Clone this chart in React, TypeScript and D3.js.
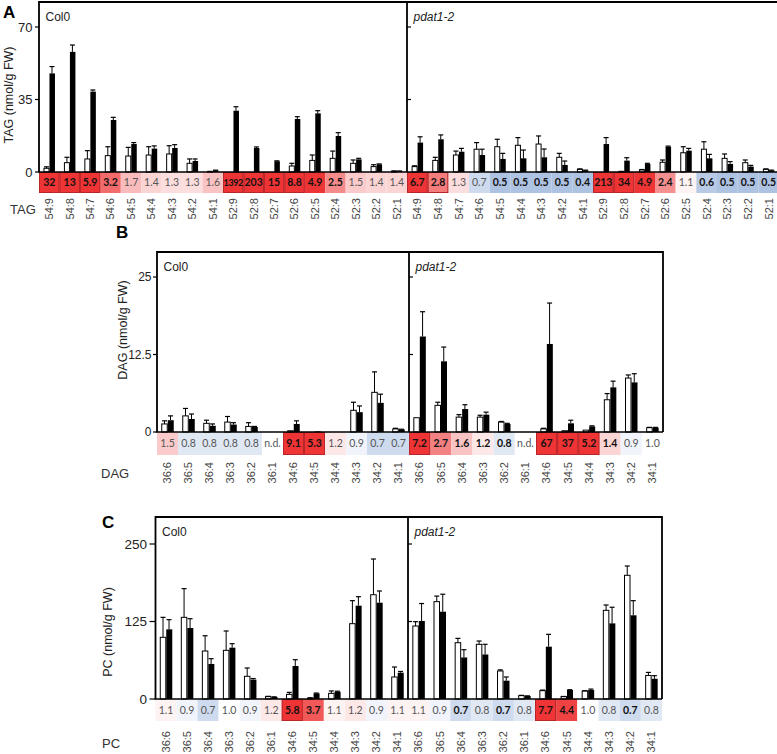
import React from "react";
import * as d3 from "d3";

// ---------- DATA ----------
const tagCats = ["54:9","54:8","54:7","54:6","54:5","54:4","54:3","54:2","54:1","52:9","52:8","52:7","52:6","52:5","52:4","52:3","52:2","52:1"];
const tagCol0Open = [1.8,4.5,6.3,7.9,7.7,8.2,8.7,4.2,0.2,0,0,0,2.9,5.6,6.6,4.2,2.6,0.4];
const tagCol0OpenSd = [0.7,2.6,4.0,4.3,4.2,4.0,4.0,2.1,0.1,0,0,0,1.3,2.6,3.5,1.6,0.9,0.1];
const tagCol0Filled = [47.6,58,38.8,25.1,13.5,11.3,11.6,5.3,0.8,29.6,11.6,5.2,25.6,28.3,17.4,6.1,3.7,0.4];
const tagCol0FilledSd = [3.3,3.3,0.8,1.3,0.7,1.3,1.6,1.0,0.1,1.9,0.5,0.2,1.1,1.3,1.6,0.5,0.2,0.1];
const tagPdatOpen = [2.6,5.6,8.2,11,12.2,12.9,13.5,7.1,1.3,0,0.2,1,4.7,9.3,11,6.6,4.5,1.3];
const tagPdatOpenSd = [0.4,1.5,1.9,3.2,3.6,3.7,3.9,1.9,0.2,0,0.1,0.2,1.1,2.9,3.6,2.1,1.3,0.2];
const tagPdatFilled = [14.2,15.8,9.8,8.2,6.3,6.6,7.1,3.4,0.8,13.5,5.5,3.9,12.2,10.3,6.6,3.9,2.6,0.8];
const tagPdatFilledSd = [2.8,2.1,1.6,2.8,2.7,4.0,4.0,1.9,0.1,3.1,1.4,0.3,0.3,1.1,1.9,1.1,0.6,0.1];
const tagCol0Fold = [32,13,5.9,3.2,1.7,1.4,1.3,1.3,1.6,1392,203,15,8.8,4.9,2.5,1.5,1.4,1.4];
const tagCol0Sig = [2,2,2,1,0,0,0,0,0,2,2,2,2,1,1,0,0,0];
const tagPdatFold = [6.7,2.8,1.3,0.7,0.5,0.5,0.5,0.5,0.4,213,34,4.9,2.4,1.1,0.6,0.5,0.5,0.5];
const tagPdatSig = [2,2,0,0,1,1,1,1,1,2,2,1,1,0,1,1,1,1];
const tagTicks = [0,35,70];

const dagCats = ["36:6","36:5","36:4","36:3","36:2","36:1","34:6","34:5","34:4","34:3","34:2","34:1"];
const dagCol0Open = [1.3,2.6,1.4,1.6,0.9,0,0.2,0,0,3.5,6.4,0.5];
const dagCol0OpenSd = [0.5,1.2,0.5,0.9,0.6,0,0,0,0,1.3,3.3,0.1];
const dagCol0Filled = [1.9,2.1,1.0,1.2,0.8,0,1.3,0.1,0,3.2,4.7,0.4];
const dagCol0FilledSd = [0.7,0.8,0.3,0.3,0.1,0,0.5,0,0,1.0,1.4,0.05];
const dagPdatOpen = [2.3,4.3,2.4,2.4,1.6,0,0.5,0.2,0.3,5.2,8.7,0.7];
const dagPdatOpenSd = [0,0.5,0.4,0.3,0.1,0,0.1,0,0,1.0,0.5,0.05];
const dagPdatFilled = [15.4,11.4,3.7,2.8,1.3,0,14.2,1.4,0.9,7.2,8.0,0.7];
const dagPdatFilledSd = [4.0,2.3,0.7,0.4,0.1,0,6.6,0.5,0.1,1.0,1.4,0.05];
const dagCol0Fold = [1.5,0.8,0.8,0.8,0.8,null,9.1,5.3,1.2,0.9,0.7,0.7];
const dagCol0Sig = [0,0,0,0,0,0,2,2,0,0,0,0];
const dagPdatFold = [7.2,2.7,1.6,1.2,0.8,null,67,37,5.2,1.4,0.9,1.0];
const dagPdatSig = [2,1,1,1,1,0,2,2,2,1,0,0];
const dagTicks = [0,12.5,25];

const pcCats = ["36:6","36:5","36:4","36:3","36:2","36:1","34:6","34:5","34:4","34:3","34:2","34:1"];
const pcCol0Open = [99.5,131.7,77.4,78.5,36.6,3.8,7.5,1.6,9.1,121.5,168.2,35.5];
const pcCol0OpenSd = [32.2,46.3,24.6,31.2,13.4,0.5,3.2,0.3,3.9,37.1,57.6,16.1];
const pcCol0Filled = [112.4,114.5,56.5,82.8,31.2,3.2,53.2,9.1,11.8,150.5,155.3,42.4];
const pcCol0FilledSd = [15.6,15,8.5,6.4,1.8,0.3,10.2,0.5,0.8,14.5,18.9,2];
const pcPdatOpen = [117.7,157,90.8,88.2,45.2,5.4,13.4,3.8,12.9,143,199.5,38];
const pcPdatOpenSd = [7,9,7,5.3,1.8,0.5,1,0.3,0.5,8.6,15,4.9];
const pcPdatFilled = [125.8,140.8,67,71.8,29.5,4.8,84.4,14.5,14.5,122,135,32.7];
const pcPdatFilledSd = [28.2,28.2,12.5,16.4,6,0.3,19.9,0.5,1.5,26,23.6,4.9];
const pcCol0Fold = [1.1,0.9,0.7,1.0,0.9,1.2,5.8,3.7,1.1,1.2,0.9,1.1];
const pcCol0Sig = [0,0,0,0,0,0,2,1,0,0,0,0];
const pcPdatFold = [1.1,0.9,0.7,0.8,0.7,0.8,7.7,4.4,1.0,0.8,0.7,0.8];
const pcPdatSig = [0,0,1,0,1,0,2,1,0,0,1,0];
const pcTicks = [0,125,250];

// ---------- helpers ----------
const SANS = "Liberation Sans, Arial, Helvetica, sans-serif";
const HEATFONT = "Lato, 'Open Sans', sans-serif";

function heatColor(v) {
  if (v == null) return "#ffffff";
  const l = Math.log2(v);
  if (l >= 0) return d3.interpolateRgb("#ffffff", "#ee3434")(Math.min(1, l / 2.3));
  return d3.interpolateRgb("#ffffff", "#aec2e2")(Math.min(1, -l / 0.85));
}
function fmtFold(v) {
  if (v == null) return "n.d.";
  return v >= 10 ? d3.format("d")(v) : d3.format(".1f")(v);
}

function Half({ cats, x, y, open, openSd, filled, filledSd, fold, sig, heatTop, heatBot, labelTop, bw }) {
  const w = x.bandwidth();
  const cells = cats.map((c, i) => (
    <rect key={"h" + c} x={x(c)} y={heatTop} width={w} height={heatBot - heatTop} fill={heatColor(fold[i])} />
  ));
  const boxes = cats.map((c, i) =>
    sig[i] === 2 ? (
      <rect key={"b" + c} x={x(c) + 0.5} y={heatTop + 0.5} width={w - 1} height={heatBot - heatTop - 1} fill="none" stroke="#b8262a" strokeWidth={1} />
    ) : null
  );
  const texts = cats.map((c, i) => {
    const s = fmtFold(fold[i]);
    const long = s.length >= 4 && s !== "n.d.";
    return (
      <text key={"t" + c} x={x(c) + w / 2} y={(heatTop + heatBot) / 2} dy="0.35em" textAnchor="middle"
        fontFamily={HEATFONT} fontSize={long ? 9 : 10.5} letterSpacing={long ? -0.4 : 0}
        fontWeight={sig[i] > 0 ? 700 : 400} fill={sig[i] > 0 ? "#111" : "#555"}>
        {s}
      </text>
    );
  });
  const labels = cats.map((c) => (
    <text key={"l" + c} transform={`translate(${x(c) + w / 2},${labelTop}) rotate(-90)`} textAnchor="end" dy="0.35em"
      fontFamily={SANS} fontSize={11} fill="#444">{c}</text>
  ));
  const bars = cats.map((c, i) => {
    const cx = x(c) + w / 2;
    const ox = cx - bw - 0.25;
    const fx = cx + 0.25;
    const els = [];
    if (open[i] > 0) {
      els.push(<rect key="o" x={ox} y={y(open[i])} width={bw} height={y(0) - y(open[i])} fill="#fff" stroke="#000" strokeWidth={1} />);
      if (openSd[i] > 0) {
        const t = y(open[i] + openSd[i]);
        els.push(<line key="oe" x1={ox + bw / 2} x2={ox + bw / 2} y1={y(open[i])} y2={t} stroke="#000" strokeWidth={1} />);
        els.push(<line key="oc" x1={ox + bw / 2 - 2.5} x2={ox + bw / 2 + 2.5} y1={t} y2={t} stroke="#000" strokeWidth={1.2} />);
      }
    }
    if (filled[i] > 0) {
      els.push(<rect key="f" x={fx} y={y(filled[i])} width={bw + 0.5} height={y(0) - y(filled[i])} fill="#000" />);
      if (filledSd[i] > 0) {
        const t = y(filled[i] + filledSd[i]);
        els.push(<line key="fe" x1={fx + bw / 2} x2={fx + bw / 2} y1={y(filled[i])} y2={t} stroke="#000" strokeWidth={1} />);
        els.push(<line key="fc" x1={fx + bw / 2 - 2.5} x2={fx + bw / 2 + 2.5} y1={t} y2={t} stroke="#000" strokeWidth={1.2} />);
      }
    }
    return <g key={"bar" + c}>{els}</g>;
  });
  return <g>{cells}{boxes}{texts}{labels}{bars}</g>;
}

function Panel(p) {
  const xL = d3.scaleBand().domain(p.cats).range([p.x0, p.xMid]);
  const xR = d3.scaleBand().domain(p.cats).range([p.xMid, p.x1]);
  const y = d3.scaleLinear().domain([0, p.ticks[p.ticks.length - 1]]).range([p.base, p.tickTopY]);
  const common = { y, heatTop: p.base, heatBot: p.heatBot, labelTop: p.labelTop, bw: p.bw };
  return (
    <g>
      <Half cats={p.cats} x={xL} {...common} open={p.left[0]} openSd={p.left[1]} filled={p.left[2]} filledSd={p.left[3]} fold={p.left[4]} sig={p.left[5]} />
      <Half cats={p.cats} x={xR} {...common} open={p.right[0]} openSd={p.right[1]} filled={p.right[2]} filledSd={p.right[3]} fold={p.right[4]} sig={p.right[5]} />
      <path d={`M${p.x0},${p.base} V${p.top} H${p.x1} V${p.base}`} fill="none" stroke="#000" strokeWidth={1.8} />
      <line x1={p.xMid} x2={p.xMid} y1={p.top} y2={p.base} stroke="#000" strokeWidth={1.8} />
      <line x1={p.x0 - 1} x2={p.x1} y1={p.base} y2={p.base} stroke="#000" strokeWidth={1.6} />
      {p.ticks.map((t) => (
        <g key={"tk" + t}>
          <line x1={p.x0 - p.tickLen} x2={p.x0} y1={y(t)} y2={y(t)} stroke="#000" strokeWidth={1.2} />
          {t > 0 ? <line x1={p.xMid} x2={p.xMid + 4} y1={y(t)} y2={y(t)} stroke="#000" strokeWidth={1.2} /> : null}
          <text x={p.x0 - p.tickLen - p.tickGap} y={y(t)} dy="0.35em" textAnchor="end" fontFamily={SANS} fontSize={p.tickFont} fill="#222">{t}</text>
        </g>
      ))}
      <text transform={`translate(${p.yTitleX},${p.yTitleY}) rotate(-90)`} textAnchor="middle" dy="0.35em" fontFamily={SANS} fontSize={12.5} fill="#222">{p.yTitle}</text>
      <text x={p.x0 + 6.5} y={p.top + 18.5} fontFamily={SANS} fontSize={12} fill="#222">Col0</text>
      <text x={p.xMid + 6.5} y={p.top + 18.5} fontFamily={SANS} fontSize={12} fontStyle="italic" fill="#222">pdat1-2</text>
      <text x={p.rowX} y={p.rowY} dy="0.35em" fontFamily={SANS} fontSize={13} fill="#333">{p.rowLabel}</text>
      <text x={p.letterX} y={p.letterY} fontFamily={SANS} fontSize={17} fontWeight={700} fill="#000">{p.letter}</text>
    </g>
  );
}

export default function App() {
  return (
    <svg width={777} height={754} style={{ position: "absolute", left: 0, top: 0, background: "#fff" }}>
      <rect width={777} height={754} fill="#fff" />
      <Panel letter="A" letterX={3} letterY={18} cats={tagCats} ticks={tagTicks} tickFont={13} tickGap={2.5}
        x0={39} xMid={407} x1={779} top={2} base={172} tickTopY={27} heatBot={193} labelTop={198} bw={5} tickLen={4}
        yTitle="TAG (nmol/g FW)" yTitleX={9} yTitleY={95} rowLabel="TAG" rowX={10} rowY={209}
        left={[tagCol0Open, tagCol0OpenSd, tagCol0Filled, tagCol0FilledSd, tagCol0Fold, tagCol0Sig]}
        right={[tagPdatOpen, tagPdatOpenSd, tagPdatFilled, tagPdatFilledSd, tagPdatFold, tagPdatSig]} />
      <Panel letter="B" letterX={116} letterY={238} cats={dagCats} ticks={dagTicks} tickFont={12} tickGap={1.5}
        x0={157} xMid={409} x1={663} top={252} base={432} tickTopY={277} heatBot={455} labelTop={462} bw={5.5} tickLen={4}
        yTitle="DAG (nmol/g FW)" yTitleX={123} yTitleY={330} rowLabel="DAG" rowX={101} rowY={473}
        left={[dagCol0Open, dagCol0OpenSd, dagCol0Filled, dagCol0FilledSd, dagCol0Fold, dagCol0Sig]}
        right={[dagPdatOpen, dagPdatOpenSd, dagPdatFilled, dagPdatFilledSd, dagPdatFold, dagPdatSig]} />
      <Panel letter="C" letterX={102} letterY={528} cats={pcCats} ticks={pcTicks} tickFont={13.5} tickGap={2.5}
        x0={155.5} xMid={408} x1={662} top={517} base={699} tickTopY={544} heatBot={721} labelTop={731} bw={5.5} tickLen={6}
        yTitle="PC (nmol/g FW)" yTitleX={108} yTitleY={632} rowLabel="PC" rowX={102} rowY={743}
        left={[pcCol0Open, pcCol0OpenSd, pcCol0Filled, pcCol0FilledSd, pcCol0Fold, pcCol0Sig]}
        right={[pcPdatOpen, pcPdatOpenSd, pcPdatFilled, pcPdatFilledSd, pcPdatFold, pcPdatSig]} />
    </svg>
  );
}
